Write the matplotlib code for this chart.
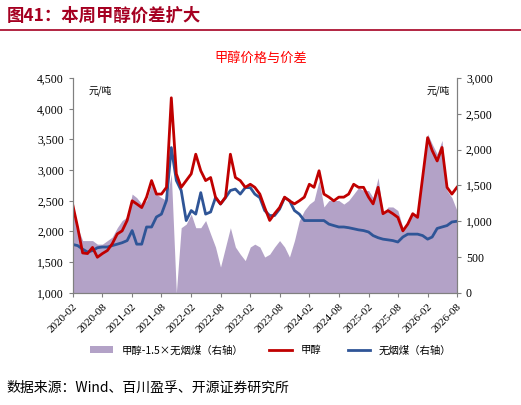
import numpy as np
import pandas as pd
import matplotlib
matplotlib.use("Agg")
import matplotlib.pyplot as plt

plt.rcParams['font.family'] = ['Noto Sans CJK SC', 'DejaVu Sans']

months = pd.date_range("2020-02-01", "2026-08-01", freq="MS")
methanol = [2420, 2070, 1650, 1640, 1740, 1580, 1640, 1690, 1800, 1960, 2010, 2180, 2500, 2450, 2390, 2560,
            2830, 2610, 2610, 2720, 4180, 2940, 2720, 2830, 2940, 3260, 2990, 2830, 2880, 2560, 2450, 2560,
            3260, 2880, 2830, 2720, 2770, 2720, 2610, 2390, 2180, 2290, 2390, 2560, 2500, 2450, 2500, 2560,
            2770, 2720, 2990, 2610, 2560, 2500, 2560, 2560, 2610, 2770, 2720, 2720, 2560, 2450, 2720, 2290,
            2340, 2290, 2230, 2010, 2120, 2290, 2230, 2880, 3530, 3320, 3150, 3370, 2720, 2610, 2720]
coal = [675, 660, 610, 570, 590, 630, 640, 640, 660, 680, 700, 730, 870, 680, 680, 920,
        920, 1060, 1100, 1290, 2030, 1570, 1430, 1010, 1150, 1100, 1400, 1100, 1130, 1330, 1240, 1330,
        1430, 1450, 1380, 1470, 1470, 1380, 1330, 1150, 1080, 1080, 1170, 1330, 1290, 1150, 1100, 1010,
        1010, 1010, 1010, 1010, 960, 940, 920, 920, 910, 895, 880, 870, 850, 800, 770, 750,
        740, 730, 710, 780, 820, 820, 820, 800, 750, 780, 900, 920, 940, 990, 1000]
spread = [1100, 910, 730, 730, 730, 680, 680, 730, 780, 910, 1010, 1060, 1380, 1330, 1240, 1290,
          1520, 1380, 1330, 1290, 1660, 0, 910, 960, 1100, 910, 910, 1010, 820, 640, 360, 640,
          910, 640, 540, 450, 640, 680, 640, 500, 540, 640, 730, 640, 500, 730, 1010, 1150,
          1240, 1290, 1570, 1200, 1290, 1290, 1290, 1240, 1290, 1380, 1470, 1430, 1430, 1330, 1610, 1100,
          1200, 1200, 1150, 910, 960, 1100, 1100, 1750, 2220, 2080, 1940, 2130, 1430, 1330, 1150]

tick_dates = pd.date_range("2020-02-01", "2026-08-01", freq="6MS")
tick_labels = [d.strftime("%Y-%m") for d in tick_dates]

red = "#C00000"
blue = "#2F5597"
purple = "#B3A2C7"
serif = "Liberation Serif"

fig = plt.figure(figsize=(5.21, 4.05), dpi=100)
fig.text(0.012, 0.962, "图41：本周甲醇价差扩大", color="#A50021", fontsize=12.5, fontweight="bold", va="center")
fig.add_artist(plt.Line2D([0.0, 1.0], [0.925, 0.925], color="#A50021", lw=1.2))
fig.text(0.5, 0.855, "甲醇价格与价差", color="red", fontsize=9.5, ha="center", va="center")

ax = fig.add_axes([0.140, 0.277, 0.737, 0.530])
ax2 = ax.twinx()
ax.set_zorder(ax2.get_zorder() + 1)
ax.patch.set_visible(False)

ax2.fill_between(months, spread, 0, color=purple, lw=0, label="甲醇-1.5×无烟煤（右轴）")
ax2.plot(months, coal, color=blue, lw=2, label="无烟煤（右轴）")
ax.plot(months, methanol, color=red, lw=2, label="甲醇")

ax.set_ylim(1000, 4500)
ax.set_yticks(np.arange(1000, 4501, 500))
ax.set_yticklabels([f"{v:,}" for v in range(1000, 4501, 500)], family=serif, fontsize=8.5)
ax2.set_ylim(0, 3000)
ax2.set_yticks(np.arange(0, 3001, 500))
ax2.set_yticklabels([f"{v:,}" for v in range(0, 3001, 500)], family=serif, fontsize=8.5)
ax.set_xlim(months[0], months[-1])
ax.set_xticks(tick_dates)
ax.set_xticklabels(tick_labels, rotation=45, ha="right", rotation_mode="anchor", family=serif, fontsize=8)

for a in (ax, ax2):
    a.spines["top"].set_visible(False)
    a.spines["left"].set_color("#808080")
    a.spines["right"].set_color("#808080")
    a.spines["bottom"].set_color("#808080")
    a.tick_params(direction="out", color="#808080", length=3)

ax.text(0.04, 0.93, "元/吨", transform=ax.transAxes, fontsize=7)
ax2.text(0.92, 0.93, "元/吨", transform=ax.transAxes, fontsize=7)

h1, l1 = ax2.get_legend_handles_labels()
h2, l2 = ax.get_legend_handles_labels()
fig.legend([h1[0], h2[0], h1[1]], [l1[0], l2[0], l1[1]], loc="center", bbox_to_anchor=(0.52, 0.135),
           ncol=3, frameon=False, fontsize=7.5, handlelength=2.2, columnspacing=2.5)

fig.text(0.012, 0.042, "数据来源：Wind、百川盈孚、开源证券研究所", fontsize=10, va="center")

fig.savefig("out.png", dpi=100)
